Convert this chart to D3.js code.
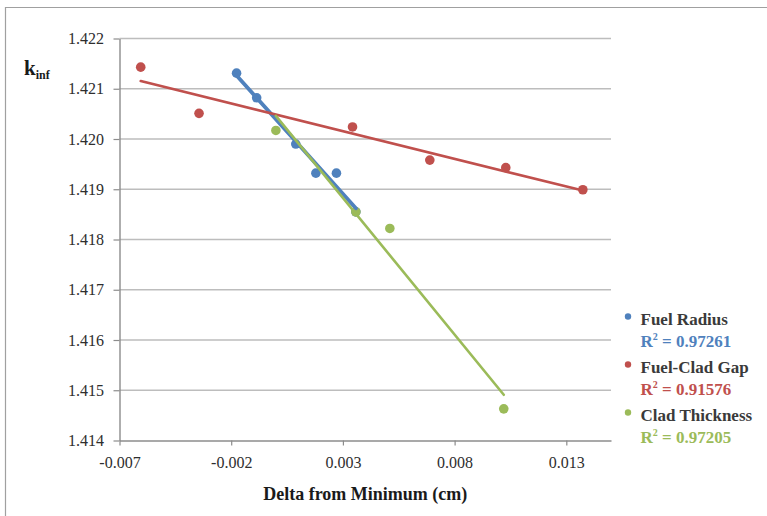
<!DOCTYPE html>
<html>
<head>
<meta charset="utf-8">
<script src="https://cdn.jsdelivr.net/npm/d3@7"></script>
<style>
  html, body { margin: 0; padding: 0; background: #ffffff; }
  svg { display: block; }
</style>
</head>
<body>
<svg id="chart" width="767" height="516"></svg>
<script>
// k-infinity sensitivity to small dimensional changes (delta from minimum, cm)
const seriesNames = ["Fuel Radius", "Fuel-Clad Gap", "Clad Thickness"];
const seriesColors = ["#4F81BD", "#C0504D", "#9BBB59"];
const rSquaredLabels = ["0.97261", "0.91576", "0.97205"];

const fuelRadiusDelta = [-0.00176, -0.00086, 0.00089, 0.00179, 0.00271, 0.00358];
const fuelRadiusK     = [1.42131, 1.42082, 1.41990, 1.41932, 1.41932, 1.41855];

const gapDelta = [-0.00605, -0.00344, 0.00343, 0.00689, 0.01029, 0.01374];
const gapK     = [1.42143, 1.42051, 1.42024, 1.41958, 1.41943, 1.41899];

const cladDelta = [0.0, 0.00358, 0.0051, 0.0102];
const cladK     = [1.42017, 1.41855, 1.41822, 1.41463];

const xTickValues = [-0.007, -0.002, 0.003, 0.008, 0.013];
const yTickValues = [1.414, 1.415, 1.416, 1.417, 1.418, 1.419, 1.420, 1.421, 1.422];
const xDomain = [-0.007, 0.015];
const yDomain = [1.414, 1.422];

const series = seriesNames.map((name, i) => {
  const xs = [fuelRadiusDelta, gapDelta, cladDelta][i];
  const ys = [fuelRadiusK, gapK, cladK][i];
  return { name, color: seriesColors[i], r2: rSquaredLabels[i],
           points: xs.map((x, j) => ({ x, y: ys[j] })) };
});

// least-squares linear trendline spanning the series' x extent
function linearFit(points) {
  const mx = d3.mean(points, p => p.x), my = d3.mean(points, p => p.y);
  let sxy = 0, sxx = 0;
  points.forEach(p => { sxy += (p.x - mx) * (p.y - my); sxx += (p.x - mx) ** 2; });
  const slope = sxy / sxx, icept = my - slope * mx;
  const [x0, x1] = d3.extent(points, p => p.x);
  return [{ x: x0, y: icept + slope * x0 }, { x: x1, y: icept + slope * x1 }];
}

// fixed three decimals with a plain hyphen for negatives
const fmt3 = d => d.toFixed(3);

const svg = d3.select("#chart");
const serif = "'Liberation Serif', 'Times New Roman', serif";
const plot = { left: 119.5, right: 611, top: 38.5, bottom: 440.5 };

const x = d3.scaleLinear().domain(xDomain).range([plot.left, plot.right]);
const y = d3.scaleLinear().domain(yDomain).range([plot.bottom, plot.top]);

// outer frame
svg.append("path")
  .attr("d", "M5.5,516 V7.5 H767")
  .attr("fill", "none").attr("stroke", "#a0a0a0").attr("stroke-width", 1.2);

// horizontal gridlines
svg.append("g").selectAll("line")
  .data(yTickValues.filter(v => v !== yDomain[0]))
  .join("line")
  .attr("x1", plot.left).attr("x2", plot.right)
  .attr("y1", d => y(d)).attr("y2", d => y(d))
  .attr("stroke", "#bdbdbd").attr("stroke-width", 1.4);

// axes
const yAxis = svg.append("g")
  .attr("transform", `translate(${plot.left},0)`)
  .call(d3.axisLeft(y).tickValues(yTickValues).tickFormat(fmt3)
        .tickSize(6).tickSizeOuter(0).tickPadding(9.5));
const xAxis = svg.append("g")
  .attr("transform", `translate(0,${plot.bottom})`)
  .call(d3.axisBottom(x).tickValues(xTickValues).tickFormat(fmt3)
        .tickSize(5).tickSizeOuter(0).tickPadding(11));

[yAxis, xAxis].forEach(g => {
  g.select(".domain").attr("stroke", "#8c8c8c").attr("stroke-width", 1.4);
  g.selectAll(".tick line").attr("stroke", "#8c8c8c").attr("stroke-width", 1.2);
  g.selectAll(".tick text").attr("font-family", serif).attr("font-size", 16).attr("fill", "#2e2e2e");
});

// markers
series.forEach(s => {
  svg.append("g").selectAll("circle")
    .data(s.points)
    .join("circle")
    .attr("cx", d => x(d.x)).attr("cy", d => y(d.y)).attr("r", 4.8)
    .attr("fill", s.color);
});

// trendlines
const trendWidths = [3.8, 2.6, 2.6];
series.forEach((s, i) => {
  const fit = linearFit(s.points);
  svg.append("line")
    .attr("x1", x(fit[0].x)).attr("y1", y(fit[0].y))
    .attr("x2", x(fit[1].x)).attr("y2", y(fit[1].y))
    .attr("stroke", s.color).attr("stroke-width", trendWidths[i])
    .attr("stroke-linecap", "round");
});

// axis titles
svg.append("text")
  .attr("x", (plot.left + plot.right) / 2).attr("y", 500)
  .attr("text-anchor", "middle")
  .attr("font-family", serif).attr("font-size", 18).attr("font-weight", "bold")
  .attr("fill", "#1a1a1a")
  .text("Delta from Minimum (cm)");

const kLabel = svg.append("text")
  .attr("x", 24).attr("y", 75)
  .attr("font-family", serif).attr("font-weight", "bold").attr("fill", "#1a1a1a");
kLabel.append("tspan").attr("font-size", 21).text("k");
kLabel.append("tspan").attr("font-size", 12).attr("dy", 4).text("inf");

// legend with R² of each trendline
const legend = svg.append("g").attr("transform", "translate(628,0)");
series.forEach((s, i) => {
  const base = 325 + i * 48;
  legend.append("circle").attr("cx", 0).attr("cy", base - 8.5).attr("r", 3.2).attr("fill", s.color);
  legend.append("text")
    .attr("x", 12.5).attr("y", base)
    .attr("font-family", serif).attr("font-size", 17).attr("font-weight", "bold")
    .attr("fill", "#3a3a3a")
    .text(s.name);
  const r = legend.append("text")
    .attr("x", 12.5).attr("y", base + 22)
    .attr("font-family", serif).attr("font-size", 17).attr("font-weight", "bold")
    .attr("fill", s.color);
  r.append("tspan").text("R");
  r.append("tspan").attr("font-size", 10).attr("dy", -7).text("2");
  r.append("tspan").attr("dy", 7).text(" = " + s.r2);
});
</script>
</body>
</html>
